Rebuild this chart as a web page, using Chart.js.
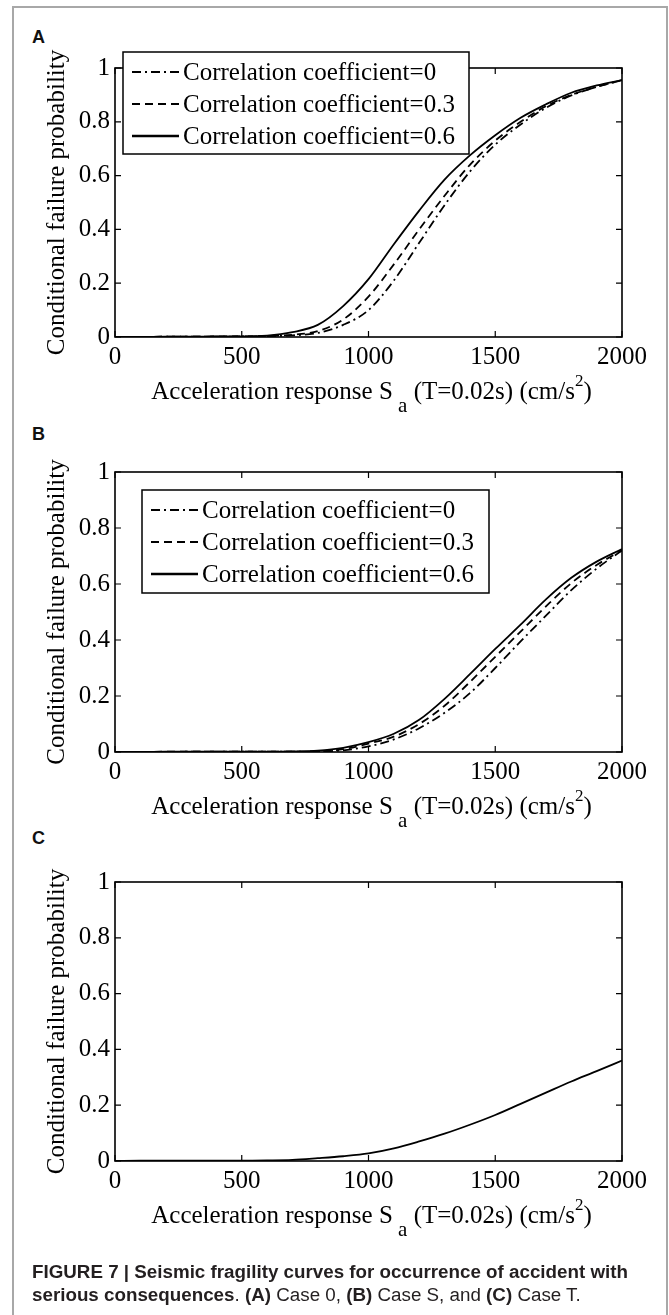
<!DOCTYPE html>
<html>
<head>
<meta charset="utf-8">
<script src="https://cdn.jsdelivr.net/npm/chart.js@4.4.1/dist/chart.umd.min.js"></script>
<style>
  html, body { margin: 0; padding: 0; background: #fff; }
  body { width: 669px; height: 1315px; position: relative; overflow: hidden; }
  .frame { position: absolute; left: 12px; top: 6px; width: 652px; height: 1330px; border: 2px solid #a8a8a8; border-bottom: none; }
  .panel { position: absolute; left: 0; width: 669px; height: 420px; }
  .letter { position: absolute; left: 32px; font: bold 18px/18px "Liberation Sans", Arial, sans-serif; color: #111; }
  .caption { position: absolute; left: 32px; top: 1260px; width: 630px; font: 18.8px/23px "Liberation Sans", Arial, sans-serif; color: #231f20; white-space: nowrap; }
</style>
</head>
<body>
<div class="frame"></div>
<div class="letter" style="top:28px">A</div>
<div class="letter" style="top:425px">B</div>
<div class="letter" style="top:829px">C</div>
<canvas id="chartA" class="panel" width="669" height="420" style="top:0px"></canvas>
<canvas id="chartB" class="panel" width="669" height="420" style="top:420px"></canvas>
<canvas id="chartC" class="panel" width="669" height="420" style="top:830px"></canvas>
<div class="caption"><b>FIGURE 7 | Seismic fragility curves for occurrence of accident with<br>serious consequences</b>. <b>(A)</b> Case 0, <b>(B)</b> Case S, and <b>(C)</b> Case T.</div>

<script>
// acceleration response Sa (cm/s^2)
const accel = [0, 100, 200, 300, 400, 500, 600, 700, 800, 900, 1000, 1100, 1200, 1300, 1400, 1500, 1600, 1700, 1800, 1900, 2000];

// Case 0
const caseA_rho0  = [0, 0, 0.001, 0.001, 0.001, 0.002, 0.003, 0.006, 0.015, 0.045, 0.10, 0.21, 0.35, 0.49, 0.615, 0.715, 0.79, 0.852, 0.898, 0.93, 0.955];
const caseA_rho03 = [0, 0, 0.001, 0.001, 0.002, 0.002, 0.004, 0.008, 0.022, 0.065, 0.15, 0.27, 0.40, 0.525, 0.64, 0.73, 0.80, 0.858, 0.90, 0.93, 0.955];
const caseA_rho06 = [0, 0, 0.001, 0.001, 0.002, 0.002, 0.005, 0.018, 0.045, 0.115, 0.215, 0.345, 0.47, 0.585, 0.675, 0.75, 0.815, 0.865, 0.908, 0.935, 0.955];

// Case S
const caseB_rho0  = [0, 0, 0, 0.001, 0.001, 0.001, 0.001, 0.001, 0.002, 0.006, 0.02, 0.045, 0.085, 0.14, 0.21, 0.30, 0.395, 0.487, 0.578, 0.655, 0.72];
const caseB_rho03 = [0, 0, 0.001, 0.001, 0.001, 0.001, 0.001, 0.001, 0.003, 0.01, 0.03, 0.055, 0.10, 0.165, 0.25, 0.34, 0.43, 0.52, 0.603, 0.668, 0.72];
const caseB_rho06 = [0, 0, 0.001, 0.001, 0.001, 0.001, 0.001, 0.002, 0.005, 0.015, 0.035, 0.065, 0.115, 0.19, 0.278, 0.368, 0.455, 0.545, 0.622, 0.68, 0.725];

// Case T
const caseC = [0, 0.001, 0.001, 0.001, 0.001, 0.001, 0.002, 0.004, 0.01, 0.017, 0.027, 0.045, 0.07, 0.098, 0.13, 0.165, 0.205, 0.245, 0.285, 0.322, 0.36];

const seriesLabels = ['Correlation coefficient=0', 'Correlation coefficient=0.3', 'Correlation coefficient=0.6'];
const xTicks = [0, 500, 1000, 1500, 2000];
const yTicks = [0, 0.2, 0.4, 0.6, 0.8, 1];

const dashDot = [9, 4, 2, 4];
const dashed = [8, 5];
const solid = [];

Chart.defaults.font.family = '"Liberation Serif", "Times New Roman", serif';
Chart.defaults.font.size = 25;
Chart.defaults.color = '#000';

function series(values, label, dash) {
    return {
        label: label,
        data: accel.map((a, i) => ({ x: a, y: values[i] })),
        borderColor: '#000',
        borderWidth: 1.8,
        borderDash: dash,
        pointRadius: 0,
        fill: false,
        cubicInterpolationMode: 'monotone'
    };
}

// matlab-like box, inward ticks, rich x title and boxed legend
const matlabAxes = {
    id: 'matlabAxes',
    afterDraw(chart, args, opts) {
        const ctx = chart.ctx;
        const a = chart.chartArea;
        const xs = chart.scales.x, ys = chart.scales.y;
        ctx.save();
        ctx.strokeStyle = '#000';
        ctx.setLineDash([]);
        ctx.lineWidth = 1.2;
        ctx.beginPath();
        xs.ticks.forEach(t => {
            const px = xs.getPixelForValue(t.value);
            ctx.moveTo(px, a.bottom); ctx.lineTo(px, a.bottom - 6);
            ctx.moveTo(px, a.top); ctx.lineTo(px, a.top + 6);
        });
        ys.ticks.forEach(t => {
            const py = ys.getPixelForValue(t.value);
            ctx.moveTo(a.left, py); ctx.lineTo(a.left + 6, py);
            ctx.moveTo(a.right, py); ctx.lineTo(a.right - 6, py);
        });
        ctx.stroke();
        ctx.lineWidth = 1.6;
        ctx.strokeRect(a.left, a.top, a.right - a.left, a.bottom - a.top);

        // x axis title with subscript / superscript
        const fam = Chart.defaults.font.family;
        const parts = [
            { text: 'Acceleration response S', size: 25, dy: 0 },
            { text: ' a', size: 21, dy: 13 },
            { text: ' (T=0.02s) (cm/s', size: 25, dy: 0 },
            { text: '2', size: 17, dy: -13 },
            { text: ')', size: 25, dy: 0 }
        ];
        let total = 0;
        parts.forEach(p => { ctx.font = p.size + 'px ' + fam; p.w = ctx.measureText(p.text).width; total += p.w; });
        let tx = (a.left + a.right) / 2 - total / 2 + 3;
        const base = a.bottom + 62;
        ctx.fillStyle = '#000';
        ctx.textBaseline = 'alphabetic';
        ctx.textAlign = 'left';
        parts.forEach(p => { ctx.font = p.size + 'px ' + fam; ctx.fillText(p.text, tx, base + p.dy); tx += p.w; });

        // legend
        if (opts.box) {
            const b = opts.box;
            ctx.fillStyle = '#fff';
            ctx.fillRect(b.left, b.top, b.width, b.height);
            ctx.lineWidth = 1.5;
            ctx.strokeRect(b.left, b.top, b.width, b.height);
            ctx.font = '25px ' + fam;
            ctx.textBaseline = 'middle';
            ctx.fillStyle = '#000';
            chart.data.datasets.forEach((ds, i) => {
                const cy = b.top + 20 + i * 32;
                ctx.lineWidth = ds.borderDash.length ? 1.8 : 2.4;
                ctx.setLineDash(ds.borderDash);
                ctx.beginPath();
                ctx.moveTo(b.left + 9, cy);
                ctx.lineTo(b.left + 56, cy);
                ctx.stroke();
                ctx.setLineDash([]);
                ctx.fillText(ds.label, b.left + 60, cy + 1);
            });
        }
        ctx.restore();
    }
};

function makePanel(canvasId, datasets, padTop, xAxisHeight, legendBox) {
    return new Chart(document.getElementById(canvasId), {
        type: 'line',
        data: { datasets: datasets },
        options: {
            responsive: false,
            animation: false,
            layout: { padding: { left: 0, right: 47, top: padTop, bottom: 0 } },
            plugins: {
                legend: { display: false },
                tooltip: { enabled: false },
                matlabAxes: { box: legendBox }
            },
            scales: {
                x: {
                    type: 'linear',
                    min: 0,
                    max: 2000,
                    afterBuildTicks: s => { s.ticks = xTicks.map(v => ({ value: v })); },
                    afterFit: s => { s.height = xAxisHeight; },
                    grid: { display: false, drawTicks: false },
                    border: { display: false },
                    ticks: { padding: 5, maxRotation: 0, callback: v => String(v) }
                },
                y: {
                    min: 0,
                    max: 1,
                    afterBuildTicks: s => { s.ticks = yTicks.map(v => ({ value: v })); },
                    afterFit: s => { s.width = 115; },
                    grid: { display: false, drawTicks: false },
                    border: { display: false },
                    ticks: { padding: 5, callback: v => String(v) },
                    title: {
                        display: true,
                        text: 'Conditional failure probability',
                        font: { size: 25 },
                        padding: { top: 42, bottom: 0 }
                    }
                }
            }
        },
        plugins: [matlabAxes]
    });
}

// canvas A: top 0, plot 68..337
makePanel('chartA', [
    series(caseA_rho0, seriesLabels[0], dashDot),
    series(caseA_rho03, seriesLabels[1], dashed),
    series(caseA_rho06, seriesLabels[2], solid)
], 68, 83, { left: 123, top: 52, width: 346, height: 102 });

// canvas B: top 420, plot 472..752
makePanel('chartB', [
    series(caseB_rho0, seriesLabels[0], dashDot),
    series(caseB_rho03, seriesLabels[1], dashed),
    series(caseB_rho06, seriesLabels[2], solid)
], 52, 88, { left: 142, top: 70, width: 347, height: 103 });

// canvas C: top 830, plot 882..1161
makePanel('chartC', [
    series(caseC, 'Case T', solid)
], 52, 89, null);
</script>
</body>
</html>
